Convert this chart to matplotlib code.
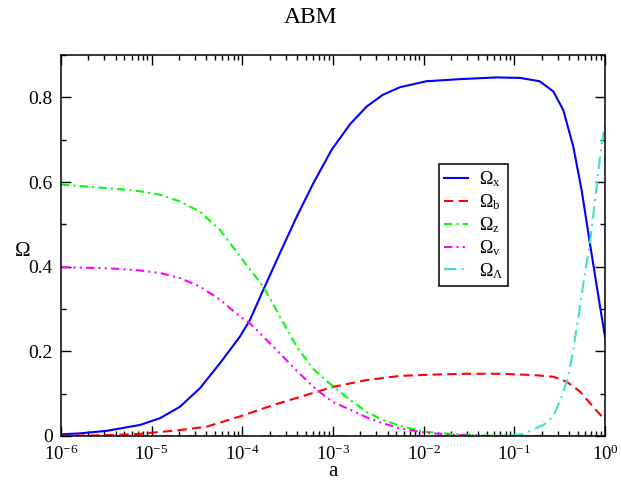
import matplotlib
matplotlib.use('Agg')
import matplotlib.pyplot as plt
import numpy as np
from matplotlib.ticker import MultipleLocator, LogLocator, NullFormatter, FixedLocator

plt.rcParams['font.family'] = 'Liberation Serif'
plt.rcParams['mathtext.fontset'] = 'custom'
plt.rcParams['mathtext.rm'] = 'Liberation Serif'
plt.rcParams['mathtext.it'] = 'Liberation Serif:italic'

# log10(a) and Omega values
loga_x = [-6.0, -5.8, -5.5, -5.129, -4.908, -4.688, -4.467, -4.246, -4.026, -3.916,
          -3.769, -3.585, -3.4, -3.217, -3.015, -2.81, -2.63, -2.45, -2.26, -1.97,
          -1.6, -1.2, -0.94, -0.72, -0.57, -0.46, -0.35, -0.257, -0.166, -0.055, 0.0]
omega_x = [0.004, 0.006, 0.012, 0.026, 0.042, 0.069, 0.113, 0.172, 0.235, 0.274,
           0.345, 0.432, 0.518, 0.597, 0.676, 0.737, 0.778, 0.806, 0.824, 0.838,
           0.843, 0.847, 0.846, 0.838, 0.814, 0.77, 0.684, 0.58, 0.455, 0.306, 0.235]

loga_b = [-6.0, -5.46, -5.129, -4.688, -4.393, -4.0, -3.66, -3.29, -3.0, -2.63, -2.26,
          -1.89, -1.53, -1.16, -0.79, -0.57, -0.42, -0.276, -0.147, 0.0]
omega_b = [0.0005, 0.002, 0.005, 0.014, 0.022, 0.048, 0.073, 0.097, 0.116, 0.132, 0.142,
           0.145, 0.147, 0.147, 0.144, 0.14, 0.128, 0.105, 0.073, 0.038]

loga_z = [-6.0, -5.64, -5.3, -5.129, -4.908, -4.688, -4.467, -4.246, -4.026, -3.769,
          -3.585, -3.4, -3.217, -3.015, -2.81, -2.63, -2.45, -2.26, -1.99, -1.71,
          -1.34, -1.0, 0.0]
omega_z = [0.594, 0.588, 0.582, 0.578, 0.57, 0.554, 0.53, 0.487, 0.424, 0.353,
           0.282, 0.211, 0.158, 0.12, 0.085, 0.057, 0.038, 0.024, 0.01, 0.005,
           0.001, 0.0, 0.0]

loga_v = [-6.0, -5.46, -5.129, -4.908, -4.688, -4.467, -4.246, -4.026, -3.916, -3.769,
          -3.585, -3.4, -3.18, -3.0, -2.81, -2.63, -2.45, -2.26, -1.99, -1.71, -1.3, 0.0]
omega_v = [0.399, 0.396, 0.391, 0.385, 0.373, 0.353, 0.322, 0.282, 0.266, 0.235,
           0.195, 0.154, 0.109, 0.08, 0.062, 0.044, 0.03, 0.018, 0.008, 0.003, 0.0, 0.0]

loga_l = [-6.0, -1.3, -1.0, -0.9, -0.68, -0.57, -0.478, -0.405, -0.35, -0.276, -0.221,
          -0.166, -0.092, -0.037, 0.0]
omega_l = [0.0, 0.0, 0.002, 0.005, 0.026, 0.046, 0.093, 0.14, 0.203, 0.306, 0.385,
           0.455, 0.59, 0.69, 0.735]

labels = [r'$\Omega_\mathrm{x}$', r'$\Omega_\mathrm{b}$', r'$\Omega_\mathrm{z}$',
          r'$\Omega_\mathrm{v}$', r'$\Omega_\Lambda$']

fig = plt.figure(figsize=(6.21, 4.8), dpi=100)
ax = fig.add_axes([0.0982, 0.0917, 0.876, 0.7937])

ax.plot(10 ** np.array(loga_x), omega_x, color='#0000ff', lw=1.5, label=labels[0])
ax.plot(10 ** np.array(loga_b), omega_b, color='#ff0000', lw=1.5,
        dashes=(4.5, 2.5), label=labels[1])
ax.plot(10 ** np.array(loga_z), omega_z, color='#00ff00', lw=1.5,
        dashes=(4, 2, 1, 2), label=labels[2])
ax.plot(10 ** np.array(loga_v), omega_v, color='#ff00ff', lw=1.5,
        dashes=(4, 2, 1, 2, 1, 2), label=labels[3])
ax.plot(10 ** np.array(loga_l), omega_l, color='#40e0d0', lw=1.5,
        dashes=(6, 2.5, 1, 2.5), label=labels[4])

ax.set_xscale('log')
ax.set_xlim(1e-6, 1)
ax.set_ylim(0, 0.9)

ax.xaxis.set_major_locator(FixedLocator([1e-6, 1e-5, 1e-4, 1e-3, 1e-2, 1e-1, 1]))
ax.set_xticklabels([r'$10^{-6}$', r'$10^{-5}$', r'$10^{-4}$', r'$10^{-3}$',
                    r'$10^{-2}$', r'$10^{-1}$', r'$10^{0}$'])
ax.xaxis.set_minor_locator(LogLocator(base=10, subs=np.arange(2, 10), numticks=20))
ax.xaxis.set_minor_formatter(NullFormatter())
ax.set_yticks([0, 0.2, 0.4, 0.6, 0.8])
ax.set_yticklabels(['0', '0.2', '0.4', '0.6', '0.8'])
ax.yaxis.set_minor_locator(MultipleLocator(0.1))

ax.tick_params(which='both', direction='in', top=True, right=True, width=1.0)
ax.tick_params(which='major', length=7, labelsize=14)
ax.tick_params(axis='x', which='major', pad=6, labelsize=13.5)
ax.tick_params(axis='y', which='major', pad=6)
ax.tick_params(which='minor', length=3.5)
for s in ax.spines.values():
    s.set_linewidth(1.1)

ax.set_xlabel('a', fontsize=15, labelpad=-1.5)
ax.set_ylabel(r'$\Omega$', fontsize=15, rotation=0)
ax.yaxis.set_label_coords(-0.072, 0.46)
fig.suptitle('ABM', fontsize=17, y=0.985)

leg = ax.legend(loc='upper left', bbox_to_anchor=(0.6945, 0.715), fontsize=13,
                frameon=True, fancybox=False, edgecolor='black', framealpha=1,
                handlelength=1.3, borderpad=0.3, labelspacing=0.18, handletextpad=0.6,
                borderaxespad=0)
leg.get_frame().set_linewidth(1.1)

fig.savefig('out.png', dpi=100)
